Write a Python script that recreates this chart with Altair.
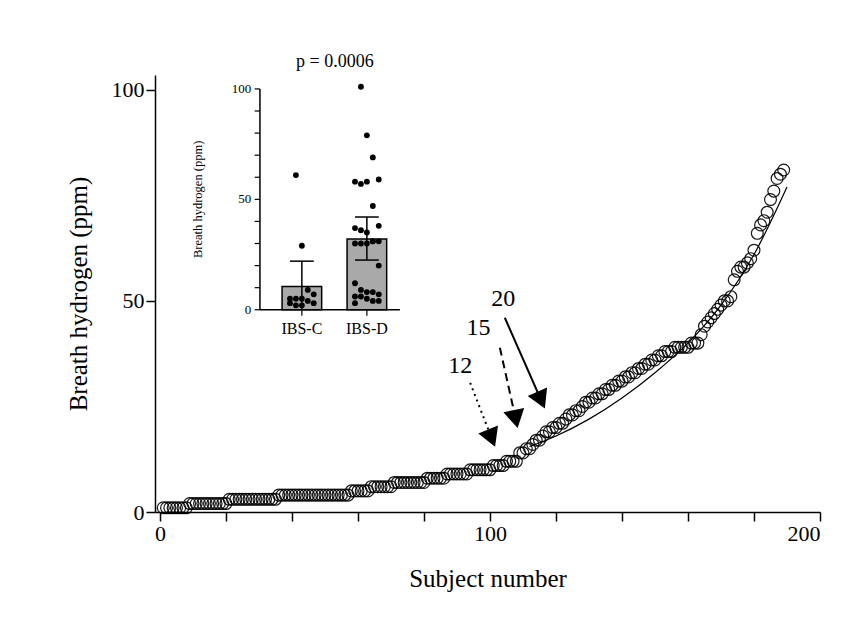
import altair as alt
import pandas as pd

# main scatter: breath hydrogen by subject (sorted)
h2 = ([1] * 8 + [2] * 12 + [3] * 15 + [4] * 22 + [5] * 6 + [6] * 7 + [7] * 10
      + [8] * 6 + [9] * 7 + [10] * 7 + [11] * 4 + [12] * 4
      + [14, 14, 15, 15, 16, 17, 17, 18, 19, 19, 20, 20]
      + [21, 21, 22, 23, 23, 24, 24, 25, 26, 26]
      + [27, 27, 28, 28, 29, 29, 30, 30, 31, 31]
      + [32, 32, 33, 33, 34, 34, 35, 35, 36, 36]
      + [37, 37, 38, 38, 38, 39, 39, 39, 39, 39]
      + [40, 40, 40, 42, 44, 45, 46, 47, 48, 49]
      + [50, 50, 51, 55, 57, 58, 58, 59, 60, 62]
      + [66, 68, 69, 71, 74, 76, 79, 80, 81])
subject = list(range(1, len(h2) + 1))

# fitted curve
fit_x = [112, 120, 130, 140, 150, 160, 170, 180, 190]
fit_y = [15.5, 18, 22, 27, 33, 40, 49, 61, 77]

# arrows
arrow_lab = ["12", "15", "20"]
arrow_x0 = [94, 103, 104.5]
arrow_y0 = [30.6, 38.9, 46]
arrow_x1 = [100.5, 107.8, 115.5]
arrow_y1 = [17.5, 22, 26.5]
arrow_dash = ["dot", "dash", "solid"]
arrow_lx = [91, 96.5, 104]
arrow_ly = [34.5, 43.5, 50.5]
arrow_ang = [158, 168, 156]

# inset
grp = ["IBS-C", "IBS-D"]
grp_mean = [10.5, 32]
grp_lo = [0, 22.5]
grp_hi = [22, 42]
ibs_c = [61, 29, 9, 7, 5, 5, 5, 4, 3, 3, 2, 2]
ibs_d = [101, 79, 69, 59, 58, 57, 58, 47, 38, 37, 36, 35, 31, 31, 30, 30, 30, 31,
         20, 12, 9, 8, 8, 7, 6, 6, 5, 4, 4, 3]
inset_ticks = list(range(0, 101, 10))

FONT = "Liberation Serif"
W, H = 665, 437

main_x = alt.Scale(domain=[-1.5, 200], nice=False)
main_y = alt.Scale(domain=[0, 103.5], nice=False)

# inset placed inside the main plot: inset value v -> main y, group -> main x
IY0, IYK = 47.9, 0.523
IX0, IX1 = 30.3, 72.7
GX = {"IBS-C": 43.0, "IBS-D": 62.7}
gx_expr = f"datum.grp == 'IBS-C' ? {GX['IBS-C']} : {GX['IBS-D']}"


def iy(field):
    return f"{IY0} + datum.{field} * {IYK}"


X = lambda f: alt.X(f"{f}:Q", scale=main_x)
Y = lambda f: alt.Y(f"{f}:Q", scale=main_y)

pts = pd.DataFrame({"subject": subject, "h2": h2})
circles = alt.Chart(pts).mark_point(shape="circle", size=140, color="black",
                                     strokeWidth=1.2, filled=False, opacity=0.9).encode(
    x=alt.X("subject:Q", scale=main_x,
            axis=alt.Axis(values=list(range(0, 201, 10)), title="Subject number",
                          labelExpr="datum.value % 50 == 0 ? datum.label : ''",
                          titlePadding=22)),
    y=alt.Y("h2:Q", scale=main_y,
            axis=alt.Axis(values=[0, 50, 100], title="Breath hydrogen (ppm)",
                          titlePadding=20)),
)

fit = alt.Chart(pd.DataFrame({"x": fit_x, "y": fit_y})).mark_line(
    color="black", strokeWidth=1.2, interpolate="monotone").encode(x=X("x"), y=Y("y"))

arr = pd.DataFrame({"lab": arrow_lab, "x0": arrow_x0, "y0": arrow_y0, "x1": arrow_x1,
                    "y1": arrow_y1, "dash": arrow_dash, "lx": arrow_lx, "ly": arrow_ly,
                    "ang": arrow_ang})
shafts = alt.Chart(arr).mark_rule(color="black", strokeWidth=2).encode(
    x=X("x0"), y=Y("y0"), x2="x1:Q", y2="y1:Q",
    strokeDash=alt.StrokeDash("dash:N", legend=None,
                              scale=alt.Scale(domain=["dot", "dash", "solid"],
                                              range=[[2, 4], [8, 5], [1, 0]])),
)
heads = alt.Chart(arr).mark_point(shape="triangle-up", filled=True, color="black",
                                  size=450, opacity=1).encode(
    x=X("x1"), y=Y("y1"), angle=alt.Angle("ang:Q", scale=None))
labels = alt.Chart(arr).mark_text(font=FONT, fontSize=24, color="black").encode(
    x=X("lx"), y=Y("ly"), text="lab:N")

# inset bars, error bars, dots
bars_df = pd.DataFrame({"grp": grp, "mean": grp_mean, "lo": grp_lo, "hi": grp_hi})
bars_base = alt.Chart(bars_df).transform_calculate(
    gx=gx_expr, bl="datum.gx - 6", br="datum.gx + 6", cl="datum.gx - 3.6",
    cr="datum.gx + 3.6", ym=iy("mean"), ylo=iy("lo"), yhi=iy("hi"), y0=f"{IY0}",
)
in_bars = bars_base.mark_rect(color="#a9a9a9", stroke="black", strokeWidth=1.5).encode(
    x=X("bl"), x2="br:Q", y=Y("y0"), y2="ym:Q")
in_err = bars_base.mark_rule(color="black", strokeWidth=1.5).encode(
    x=X("gx"), y=Y("ylo"), y2="yhi:Q")
in_cap_hi = bars_base.mark_rule(color="black", strokeWidth=1.5).encode(
    x=X("cl"), x2="cr:Q", y=Y("yhi"))
in_cap_lo = bars_base.transform_filter("datum.lo > 0").mark_rule(
    color="black", strokeWidth=1.5).encode(x=X("cl"), x2="cr:Q", y=Y("ylo"))

dots_df = pd.DataFrame({"grp": ["IBS-C"] * len(ibs_c) + ["IBS-D"] * len(ibs_d),
                        "v": ibs_c + ibs_d})
in_dots = alt.Chart(dots_df).transform_window(
    rank="row_number()", groupby=["grp"]
).transform_calculate(
    dx=f"({gx_expr}) + ((datum.rank % 5) - 2) * 1.8", dy=iy("v")
).mark_circle(color="black", size=34, opacity=1).encode(x=X("dx"), y=Y("dy"))

# inset axes
ax_df = pd.DataFrame({"t": inset_ticks})
ax_base = alt.Chart(ax_df).transform_calculate(
    ty=iy("t"), ax=f"{IX0}", tl=f"{IX0 - 1.6}", lx=f"{IX0 - 2.6}",
    lab="datum.t % 50 == 0 ? '' + datum.t : ''")
in_yticks = ax_base.mark_rule(color="black", strokeWidth=1.2).encode(
    x=X("tl"), x2="ax:Q", y=Y("ty"))
in_ylabels = ax_base.mark_text(font=FONT, fontSize=13, align="right",
                               color="black").encode(x=X("lx"), y=Y("ty"), text="lab:N")
in_ydomain = alt.Chart(pd.DataFrame({"a": [0], "b": [100]})).transform_calculate(
    ax=f"{IX0}", ya=iy("a"), yb=iy("b")).mark_rule(color="black", strokeWidth=1.5).encode(
    x=X("ax"), y=Y("ya"), y2="yb:Q")
in_xdomain = alt.Chart(pd.DataFrame({"a": [0]})).transform_calculate(
    xa=f"{IX0}", xb=f"{IX1}", ya=iy("a")).mark_rule(color="black", strokeWidth=1.5).encode(
    x=X("xa"), x2="xb:Q", y=Y("ya"))
grp_df = pd.DataFrame({"grp": grp, "z": [0, 0]})
grp_base = alt.Chart(grp_df).transform_calculate(
    gx=gx_expr, ya=iy("z"), yt=f"{IY0 - 1.4}", yl=f"{IY0 - 4.6}")
in_xticks = grp_base.mark_rule(color="black", strokeWidth=1.2).encode(
    x=X("gx"), y=Y("ya"), y2="yt:Q")
in_xlabels = grp_base.mark_text(font=FONT, fontSize=16, color="black").encode(
    x=X("gx"), y=Y("yl"), text="grp:N")
in_title = alt.Chart(pd.DataFrame({"t": ["Breath hydrogen (ppm)"], "z": [50]})).transform_calculate(
    tx="11.5", ty=iy("z")).mark_text(font=FONT, fontSize=12.5, angle=270,
                                     color="black").encode(x=X("tx"), y=Y("ty"), text="t:N")
ptext = alt.Chart(pd.DataFrame({"t": ["p = 0.0006"], "x": [53], "y": [106.6]})).mark_text(
    font=FONT, fontSize=18, color="black").encode(x=X("x"), y=Y("y"), text="t:N")

chart = alt.layer(
    circles, fit, shafts, heads, labels,
    in_bars, in_err, in_cap_hi, in_cap_lo, in_dots,
    in_yticks, in_ylabels, in_ydomain, in_xdomain, in_xticks, in_xlabels, in_title, ptext,
).properties(
    width=W, height=H,
    autosize=alt.AutoSizeParams(type="none"),
    padding={"left": 147, "top": 67, "right": 37, "bottom": 117},
).configure_view(stroke=None).configure_axis(
    labelFont=FONT, titleFont=FONT, labelColor="black", titleColor="black",
    domainColor="black", tickColor="black", labelFontSize=22, titleFontSize=25,
    titleFontWeight="normal", grid=False, domainWidth=1.5, tickWidth=1.5, tickSize=9,
)

chart.save("out.html", embed_options={"renderer": "svg", "actions": False})
